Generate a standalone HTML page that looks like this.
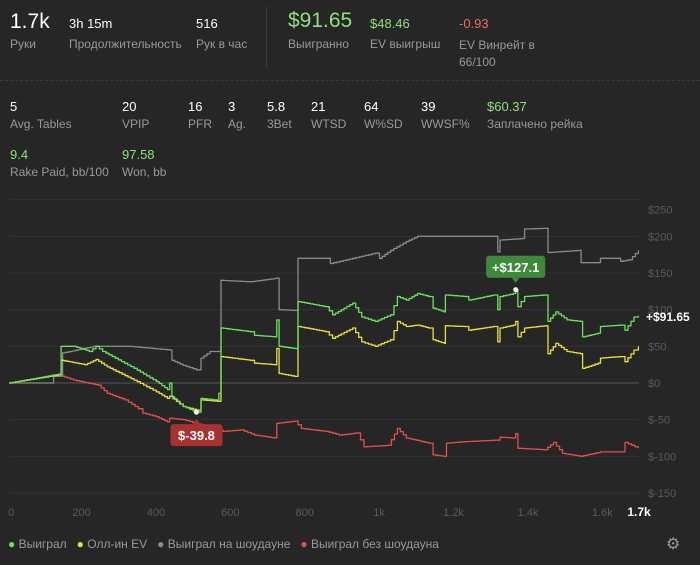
<!DOCTYPE html>
<html><head><meta charset="utf-8"><style>
body{margin:0;width:700px;height:565px;background:#262626;font-family:"Liberation Sans","DejaVu Sans",sans-serif;overflow:hidden;position:relative;color:#fff}
.s{position:absolute}
.v{position:absolute;font-size:13px;color:#fff}
.l{position:absolute;font-size:12px;color:#999}
.g{color:#8fe07a}.r{color:#ee6b5e}
</style></head><body>
<div class="v" style="left:10px;top:10px;font-size:21px">1.7k</div>
<div class="l" style="left:10px;top:37px">Руки</div>
<div class="v" style="left:69px;top:16px">3h 15m</div>
<div class="l" style="left:69px;top:37px">Продолжительность</div>
<div class="v" style="left:196px;top:16px">516</div>
<div class="l" style="left:196px;top:37px">Рук в час</div>
<div class="s" style="left:266px;top:6px;width:1px;height:62px;background:#3a3a3a"></div>
<div class="v g" style="left:288px;top:9px;font-size:21px">$91.65</div>
<div class="l" style="left:288px;top:37px">Выигранно</div>
<div class="v g" style="left:370px;top:16px">$48.46</div>
<div class="l" style="left:370px;top:37px">EV выигрыш</div>
<div class="v r" style="left:459px;top:16px">-0.93</div>
<div class="l" style="left:459px;top:37px;line-height:17px">EV Винрейт в<br>66/100</div>
<div class="s" style="left:0;top:80px;width:700px;border-top:1px dashed #3a3a3a"></div>
<div class="v" style="left:10px;top:99px">5</div>
<div class="l" style="left:10px;top:117px">Avg. Tables</div>
<div class="v" style="left:122px;top:99px">20</div>
<div class="l" style="left:122px;top:117px">VPIP</div>
<div class="v" style="left:188px;top:99px">16</div>
<div class="l" style="left:188px;top:117px">PFR</div>
<div class="v" style="left:228px;top:99px">3</div>
<div class="l" style="left:228px;top:117px">Ag.</div>
<div class="v" style="left:267px;top:99px">5.8</div>
<div class="l" style="left:267px;top:117px">3Bet</div>
<div class="v" style="left:311px;top:99px">21</div>
<div class="l" style="left:311px;top:117px">WTSD</div>
<div class="v" style="left:364px;top:99px">64</div>
<div class="l" style="left:364px;top:117px">W%SD</div>
<div class="v" style="left:421px;top:99px">39</div>
<div class="l" style="left:421px;top:117px">WWSF%</div>
<div class="v g" style="left:487px;top:99px">$60.37</div>
<div class="l" style="left:487px;top:117px">Заплачено рейка</div>
<div class="v g" style="left:10px;top:147px">9.4</div>
<div class="l" style="left:10px;top:165px">Rake Paid, bb/100</div>
<div class="v g" style="left:122px;top:147px">97.58</div>
<div class="l" style="left:122px;top:165px">Won, bb</div>
<svg id="c" class="s" style="left:0;top:0" width="700" height="565"></svg>
<script>
const yTicks=[250,200,150,100,50,0,-50,-100,-150];
const xTicks=[0,200,400,600,800,1000,1200,1400,1600];
const xTickLabels=["0","200","400","600","800","1k","1.2k","1.4k","1.6k"];
const greenH=[5,137,145,179,221,239,257,341,401,431,437,443,473,509,521,557,569,575,653,665,719,725,731,773,782,857,875,929,953,989,1031,1049,1073,1103,1133,1145,1175,1178,1229,1241,1307,1319,1325,1361,1367,1373,1391,1445,1454,1475,1505,1541,1547,1589,1595,1649,1661,1685,1697];
const greenV=[0,12,50,50,43,50,43,20,2,-9,0,-19,-32,-39.8,-21,-23,-14,75,70,65,63,86,50,47,111,104,93,109,90,84,93,118,113,122,118,102,97,120,118,113,120,100,118,122,127.1,104,118,120,84,97,86,84,63,68,77,79,72,90,91.65];
const yellowH=[5,137,145,209,239,269,341,401,431,437,473,509,521,569,575,653,665,719,725,731,773,782,857,875,929,953,989,1031,1049,1073,1103,1133,1145,1175,1178,1229,1241,1307,1319,1325,1361,1367,1373,1391,1445,1454,1475,1505,1541,1547,1589,1595,1649,1661,1685,1697];
const yellowV=[0,11,31,25,32,22,4,-12,-21,-18,-32,-37,-23,-25,36,31,27,25,47,13,9,77,70,61,75,56,50,59,84,77,79,75,59,54,78,77,72,77,56,75,79,84,63,75,78,40,54,43,40,20,27,34,36,29,45,50];
const grayH=[5,113,125,145,149,233,329,437,443,473,509,521,545,569,575,653,725,731,773,782,862,869,929,989,1001,1031,1073,1103,1169,1307,1319,1325,1385,1391,1448,1454,1541,1543,1589,1595,1643,1649,1673,1697];
const grayV=[0,0,9,9,41,50,50,45,31,24,18,34,43,43,140,138,143,100,99,170,170,163,170,177,170,181,193,200,200,200,179,195,197,210,211,178,181,164,164,170,170,166,168,181];
const redH=[5,113,137,179,245,269,317,353,365,401,431,437,473,557,581,629,665,719,725,773,791,857,893,941,959,1025,1049,1073,1133,1145,1175,1181,1229,1313,1325,1361,1367,1373,1445,1469,1493,1541,1595,1655,1661,1697];
const redV=[0,9,11,4,-3,-14,-23,-35,-41,-46,-53,-48,-50,-62,-66,-64,-71,-75,-55,-52,-62,-66,-71,-68,-87,-85,-62,-75,-82,-98,-100,-82,-80,-78,-74,-75,-69,-89,-91,-81,-96,-100,-94,-94,-81,-89];
const X=h=>7.14+h*0.372, Y=v=>383-v*0.7333;
const svg=document.getElementById('c'),NS='http://www.w3.org/2000/svg';
function mk(t,a,p){const e=document.createElementNS(NS,t);for(const k in a)e.setAttribute(k,a[k]);(p||svg).appendChild(e);return e;}
yTicks.forEach((t,i)=>{
 const gl=mk('line',{x1:10,x2:639,y1:Y(t),y2:Y(t),stroke:t===0?'#555':'#333','stroke-width':1});
 
 
 const tx=mk('text',{x:648,y:(t===250?Y(t)+14:Y(t)+4),fill:'#5a5a5a','font-size':11});
 tx.textContent='$'+t;
 
 
});
const bl=mk('line',{x1:10,x2:639,y1:493,y2:493,stroke:'#333'});


xTicks.forEach((t,i)=>{
 const tx=mk('text',{x:i===0?X(t)+1:X(t),y:516,fill:'#5a5a5a','font-size':11,'text-anchor':i===0?'start':'middle'});
 tx.textContent=xTickLabels[i];
 
 
});
const lx=mk('text',{x:639,y:516,fill:'#fff','font-size':12,'font-weight':'bold','text-anchor':'middle'});
lx.textContent='1.7k';


function line(H,V,col,name){
 let d='M'+X(H[0]).toFixed(1)+' '+Y(V[0]).toFixed(1);
 for(let i=1;i<H.length;i++){
  const x0=X(H[i-1]),x1=X(H[i]),y0=Y(V[i-1]),y1=Y(V[i]);
  const n=Math.max(1,Math.round((x1-x0)/3));
  for(let k=1;k<=n;k++){const xx=x0+(x1-x0)*k/n,yy=y0+(y1-y0)*k/n;d+='H'+xx.toFixed(1)+'V'+yy.toFixed(1);}
 }
 const p=mk('path',{d:d,fill:'none',stroke:col,'stroke-width':1.3,'stroke-linejoin':'round'});
 
 
}
line(grayH,grayV,'#8a8a8a','showdown-line');
line(redH,redV,'#e0504a','non-showdown-line');
line(yellowH,yellowV,'#e8e03a','allin-ev-line');
line(greenH,greenV,'#6ae35c','won-line');
const mi=greenV.indexOf(Math.max(...greenV)), ni=greenV.indexOf(Math.min(...greenV));
[[mi,'#3d8a3d','+$'+greenV[mi],'max-tooltip',-1],[ni,'#a83232','$'+greenV[ni],'min-tooltip',1]].forEach(([i,c,t,n,dir])=>{
 const cx=X(greenH[i]),cy=Y(greenV[i]);
 const g=mk('g',{});
 
 
 const by=dir<0?cy-34:cy+12,w=t.length*7+10;
 mk('rect',{x:cx-w/2,y:by,width:w,height:22,rx:3,fill:c},g);
 mk('path',{d:dir<0?`M${cx-4} ${by+22}L${cx} ${by+27}L${cx+4} ${by+22}Z`:`M${cx-4} ${by}L${cx} ${by-5}L${cx+4} ${by}Z`,fill:c},g);
 const tt=mk('text',{x:cx,y:by+16,fill:'#fff','font-size':13,'font-weight':'bold','text-anchor':'middle'},g);tt.textContent=t;
 mk('circle',{cx:cx,cy:cy,r:2.5,fill:'#fff'},g);
});
const ll=mk('text',{x:646,y:Y(greenV[greenV.length-1])+5,fill:'#fff','font-size':12,'font-weight':'bold'});
ll.textContent='+$'+greenV[greenV.length-1];


</script>
<div class="s" style="left:8px;top:537px;font-size:12px;color:#999;white-space:nowrap">
<span><span style="color:#6ae35c">●</span> Выиграл</span>&nbsp;&nbsp;
<span><span style="color:#e8e03a">●</span> Олл-ин EV</span>&nbsp;&nbsp;
<span><span style="color:#8a8a8a">●</span> Выиграл на шоудауне</span>&nbsp;&nbsp;
<span><span style="color:#e0504a">●</span> Выиграл без шоудауна</span>
</div>
<div class="s" style="left:666px;top:534px;font-size:16px;color:#999">⚙</div>
</body></html>
